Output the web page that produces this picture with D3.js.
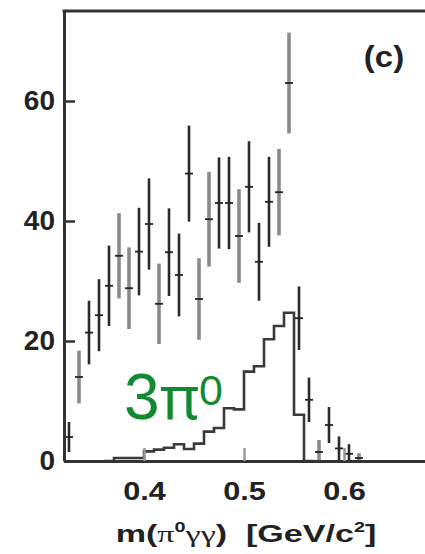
<!DOCTYPE html>
<meta charset="utf-8">
<title>m(pi0 gamma gamma)</title>
<style>
body {
  margin: 0;
  background: #fff;
}
.axis text {
  font-family: "Liberation Sans", Arial, sans-serif;
  font-weight: bold;
  fill: #222;
}
</style>
<body>
<script src="https://cdn.jsdelivr.net/npm/d3@7/dist/d3.min.js"></script>
<script>

var w = 425,
    h = 554;

// data points: bin centre, counts, error
var binCentres = [0.325, 0.335, 0.345, 0.355, 0.365, 0.375, 0.385, 0.395, 0.405, 0.415,
                  0.425, 0.435, 0.445, 0.455, 0.465, 0.475, 0.485, 0.495, 0.505, 0.515,
                  0.525, 0.535, 0.545, 0.555, 0.565, 0.575, 0.585, 0.595, 0.605, 0.615];
var counts = [4.0, 14.0, 21.4, 24.3, 29.2, 34.2, 28.8, 34.9, 39.5, 26.2,
              34.8, 31.0, 47.9, 27.0, 40.3, 43.0, 43.0, 37.5, 45.7, 33.2,
              43.2, 44.8, 63.0, 23.8, 10.2, 1.5, 6.0, 2.1, 1.2, 0.5];
var errors = [2.5, 4.4, 5.3, 6.0, 6.7, 7.1, 6.8, 7.3, 7.6, 6.7,
              7.3, 6.9, 8.0, 6.8, 7.9, 7.6, 7.7, 7.8, 7.6, 6.5,
              7.5, 7.2, 8.4, 5.3, 3.7, 2.0, 3.0, 2.0, 1.6, 0.8];
// bins printed lighter in the scan
var lightBins = [0.335, 0.375, 0.385, 0.415, 0.455, 0.465, 0.495, 0.535, 0.545, 0.575, 0.615];

// 3pi0 simulation histogram (lower bin edges, contents)
var mcEdges = [0.36, 0.37, 0.38, 0.39, 0.40, 0.41, 0.42, 0.43, 0.44, 0.45, 0.46,
               0.47, 0.48, 0.49, 0.50, 0.51, 0.52, 0.53, 0.54, 0.55, 0.56, 0.57];
var mcValues = [0, 0.5, 0.5, 0.5, 1.6, 1.9, 2.2, 2.8, 2.0, 2.9, 4.9,
                5.5, 8.8, 8.6, 14.9, 15.8, 20.3, 22.5, 24.7, 7.7, 0, 0];

var xTicks = [0.4, 0.5, 0.6];
var yTicks = [0, 20, 40, 60];

var x = d3.scaleLinear().domain([0.32, 0.681]).range([64, 425]);
var y = d3.scaleLinear().domain([0, 75]).range([461, 11]);

var svg = d3.select("body").append("svg")
    .attr("width", w)
    .attr("height", h);

// histogram
var mc = mcEdges.map(function(e, i) { return [e, mcValues[i]]; });
svg.append("path")
    .datum(mc)
    .attr("fill", "none")
    .attr("stroke", "#3a3a3a")
    .attr("stroke-width", 2.6)
    .attr("d", d3.line()
      .x(function(d) { return x(d[0]); })
      .y(function(d) { return y(d[1]); })
      .curve(d3.curveStepAfter));

// error bars
var pts = binCentres.map(function(c, i) {
  return {c: c, v: counts[i], e: errors[i], light: lightBins.indexOf(c) >= 0};
});

var g = svg.selectAll(".pt")
    .data(pts)
  .enter().append("g")
    .attr("class", "pt");

g.append("line")
    .attr("x1", function(d) { return x(d.c); })
    .attr("x2", function(d) { return x(d.c); })
    .attr("y1", function(d) { return y(Math.max(0, d.v - d.e)); })
    .attr("y2", function(d) { return y(d.v + d.e); })
    .attr("stroke", function(d) { return d.light ? "#8a8a8a" : "#2a2a2a"; })
    .attr("stroke-width", function(d) { return d.light ? 3.6 : 2.6; });

g.append("line")
    .attr("x1", function(d) { return x(d.c) - 4; })
    .attr("x2", function(d) { return x(d.c) + 4; })
    .attr("y1", function(d) { return y(d.v); })
    .attr("y2", function(d) { return y(d.v); })
    .attr("stroke", "#222")
    .attr("stroke-width", 1.8);

// axes
var yAxis = svg.append("g")
    .attr("class", "axis")
    .attr("transform", "translate(" + x.range()[0] + ",0)")
    .call(d3.axisLeft(y).tickValues(yTicks).tickSizeInner(-11).tickSizeOuter(0).tickPadding(9));

var xAxis = svg.append("g")
    .attr("class", "axis")
    .attr("transform", "translate(0," + y(0) + ")")
    .call(d3.axisBottom(x).tickValues(xTicks).tickFormat(d3.format(".1f"))
      .tickSizeInner(-13).tickSizeOuter(0).tickPadding(21));

yAxis.selectAll("text").style("font-size", "28px");
xAxis.selectAll("text").style("font-size", "26px").attr("transform", "scale(1.18,1)");
svg.selectAll(".axis path").attr("stroke", "#333").attr("stroke-width", 3);
yAxis.selectAll(".tick line").attr("stroke", "#333").attr("stroke-width", 2.5);
xAxis.selectAll(".tick line").attr("stroke", "#999").attr("stroke-width", 2.5);

// top frame
svg.append("line")
    .attr("x1", x.range()[0] - 1.5)
    .attr("x2", x.range()[1])
    .attr("y1", y.range()[1])
    .attr("y2", y.range()[1])
    .attr("stroke", "#333")
    .attr("stroke-width", 3);

// panel label
svg.append("text")
    .attr("transform", "translate(384,67) scale(1.1,1)")
    .attr("text-anchor", "middle")
    .style("font-family", "Liberation Sans, Arial, sans-serif")
    .style("font-weight", "bold")
    .style("font-size", "30px")
    .attr("fill", "#222")
    .text("(c)");

// 3pi0 label
var green = "#138a32";
svg.append("text")
    .attr("x", 124)
    .attr("y", 419)
    .style("font-family", "Liberation Sans, Arial, sans-serif")
    .style("font-size", "64px")
    .attr("fill", green)
    .text("3");
svg.append("text")
    .attr("x", 160)
    .attr("y", 419)
    .style("font-family", "Noto Sans, DejaVu Sans, sans-serif")
    .style("font-size", "60px")
    .attr("fill", green)
    .text("\u03c0");
svg.append("text")
    .attr("x", 199)
    .attr("y", 405)
    .style("font-family", "Liberation Sans, Arial, sans-serif")
    .style("font-size", "43px")
    .attr("fill", green)
    .text("0");

// x axis title
var title = svg.append("text")
    .attr("transform", "translate(246,542) scale(1.42,1)")
    .attr("text-anchor", "middle")
    .style("font-family", "Liberation Sans, Arial, sans-serif")
    .style("font-weight", "bold")
    .style("font-size", "24px")
    .attr("fill", "#222");
title.append("tspan").text("m(");
title.append("tspan").style("font-family", "Liberation Serif, serif").style("font-weight", "normal").text("\u03c0");
title.append("tspan").attr("dy", -10).style("font-size", "14px").text("0");
title.append("tspan").attr("dy", 10).style("font-family", "Liberation Serif, serif").style("font-weight", "normal").text("\u03b3\u03b3");
title.append("tspan").text(")\u00a0\u00a0[GeV/c");
title.append("tspan").attr("dy", -10).style("font-size", "14px").text("2");
title.append("tspan").attr("dy", 10).text("]");

</script>
</body>
